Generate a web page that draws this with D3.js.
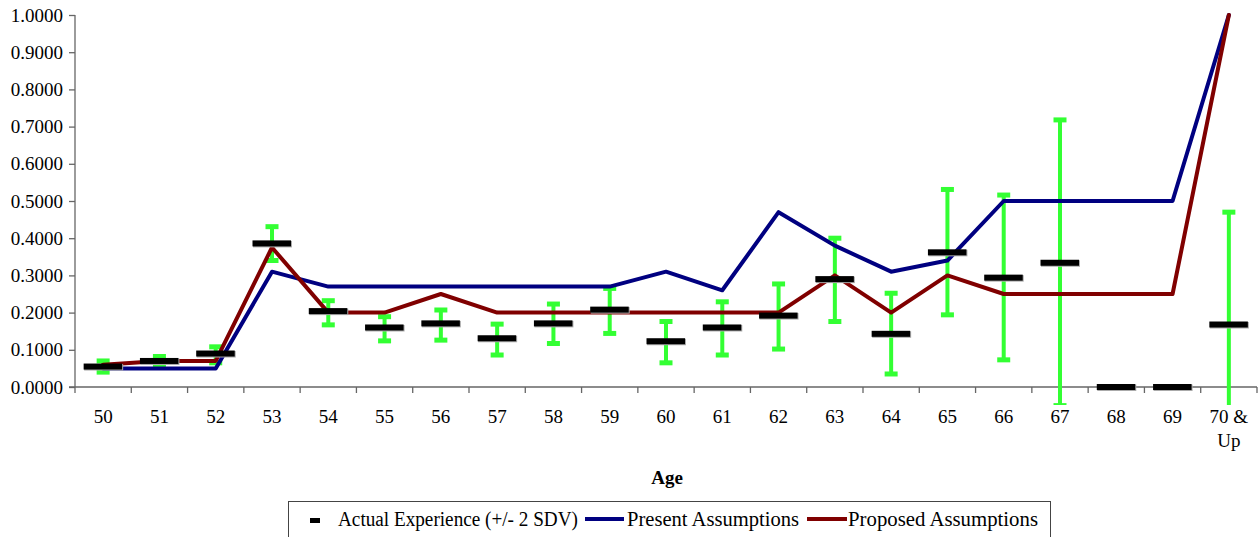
<!DOCTYPE html>
<html><head><meta charset="utf-8">
<script src="https://cdn.jsdelivr.net/npm/d3@7"></script>
<style>body{margin:0;background:#fff}svg{display:block}text{font-family:"Liberation Serif","Times New Roman",serif;fill:#000}</style>
</head><body><svg id="c" width="1259" height="537"></svg>
<script>
const categories = ["50","51","52","53","54","55","56","57","58","59","60","61","62","63","64","65","66","67","68","69","70 & Up"];
const actual   = [0.055,0.070,0.090,0.386,0.204,0.160,0.171,0.131,0.171,0.208,0.123,0.160,0.192,0.290,0.143,0.362,0.294,0.334,0.000,0.000,0.168];
const errHigh  = [0.070,0.082,0.108,0.431,0.232,0.189,0.207,0.169,0.223,0.265,0.176,0.229,0.277,0.400,0.252,0.531,0.516,0.718,0.000,0.000,0.470];
const errLow   = [0.040,0.058,0.065,0.340,0.167,0.124,0.126,0.086,0.117,0.144,0.065,0.086,0.102,0.176,0.035,0.194,0.073,-0.050,0.000,0.000,-0.134];
const present  = [0.05,0.05,0.05,0.31,0.27,0.27,0.27,0.27,0.27,0.27,0.31,0.26,0.47,0.38,0.31,0.34,0.50,0.50,0.50,0.50,1.00];
const proposed = [0.06,0.07,0.07,0.375,0.20,0.20,0.25,0.20,0.20,0.20,0.20,0.20,0.20,0.30,0.20,0.30,0.25,0.25,0.25,0.25,1.00];
const yTicks = [0,0.1,0.2,0.3,0.4,0.5,0.6,0.7,0.8,0.9,1.0];
const legendLabels = ["Actual Experience (+/- 2 SDV)","Present Assumptions","Proposed Assumptions"];

const svg = d3.select("#c");
const x = d3.scaleBand().domain(categories).range([75,1257]);
const y = d3.scaleLinear().domain([0,1]).range([387,15]);
const cx = c => x(c) + x.bandwidth()/2;
const GREEN = "#33ff33", NAVY = "#000080", MAROON = "#800000", AX = "#666";

svg.append("defs").append("clipPath").attr("id","pc").append("rect")
  .attr("x",70).attr("y",0).attr("width",1189).attr("height",405);

// Y axis
const yAxis = svg.append("g").attr("transform","translate(75,0)")
  .call(d3.axisLeft(y).tickValues(yTicks).tickFormat(d3.format(".4f")).tickSize(6).tickPadding(6));
yAxis.attr("font-family",null);
yAxis.select(".domain").attr("stroke",AX).attr("stroke-width",1.3).attr("d","M0,15V387");
yAxis.selectAll(".tick line").attr("stroke",AX).attr("stroke-width",1.3);
yAxis.selectAll(".tick text").attr("font-size",19).attr("fill","#000");

// X axis
const xAxis = svg.append("g").attr("transform","translate(0,387)")
  .call(d3.axisBottom(x).tickSize(0).tickFormat(""));
xAxis.select(".domain").attr("stroke",AX).attr("stroke-width",1.3).attr("d","M69,0H1257");
const bounds = categories.map(c => x(c)).concat([x.range()[1]]);
xAxis.selectAll(".btick").data(bounds).enter().append("line")
  .attr("x1",d=>d).attr("x2",d=>d).attr("y1",0).attr("y2",6).attr("stroke",AX).attr("stroke-width",1.3);
const xl = svg.append("g");
categories.forEach(c => {
  const parts = c === "70 & Up" ? ["70 &","Up"] : [c];
  const t = xl.append("text").attr("text-anchor","middle").attr("font-size",19);
  parts.forEach((p,i) => t.append("tspan").attr("x",cx(c)).attr("y",423 + i*24).text(p));
});
svg.append("text").attr("x",667).attr("y",484).attr("text-anchor","middle")
  .attr("font-size",19).attr("font-weight","bold").text("Age");

const plot = svg.append("g").attr("clip-path","url(#pc)");
// error bars
const eb = plot.append("g");
categories.forEach((c,i) => {
  const X = cx(c);
  eb.append("line").attr("x1",X).attr("x2",X).attr("y1",y(errLow[i])).attr("y2",y(errHigh[i]))
    .attr("stroke",GREEN).attr("stroke-width",4);
  [errLow[i],errHigh[i]].forEach(v => eb.append("line").attr("x1",X-6.5).attr("x2",X+6.5)
    .attr("y1",y(v)).attr("y2",y(v)).attr("stroke",GREEN).attr("stroke-width",5));
});
// lines
const line = d3.line().x((d,i)=>cx(categories[i])).y(d=>y(d));
plot.append("path").datum(present).attr("d",line).attr("fill","none").attr("stroke",NAVY)
  .attr("stroke-width",4).attr("stroke-linejoin","round").attr("stroke-linecap","round");
plot.append("path").datum(proposed).attr("d",line).attr("fill","none").attr("stroke",MAROON)
  .attr("stroke-width",4).attr("stroke-linejoin","round").attr("stroke-linecap","round");
// dash markers
const dm = plot.append("g");
categories.forEach((c,i) => {
  const X = cx(c), Y = y(actual[i]);
  dm.append("rect").attr("x",X-19).attr("y",Y-2.5).attr("width",39).attr("height",6.5).attr("fill","#aaa");
  dm.append("rect").attr("x",X-19.5).attr("y",Y-3).attr("width",38.5).attr("height",6).attr("fill","#000");
});

// legend
const lg = svg.append("g");
lg.append("rect").attr("x",288.5).attr("y",501.5).attr("width",762).attr("height",40)
  .attr("fill","#fff").attr("stroke","#444").attr("stroke-width",1);
lg.append("rect").attr("x",310).attr("y",518).attr("width",10).attr("height",5).attr("fill","#000");
lg.append("text").attr("x",338).attr("y",526).attr("font-size",20.5)
  .attr("textLength",240).attr("lengthAdjust","spacingAndGlyphs").text(legendLabels[0]);
lg.append("line").attr("x1",585).attr("x2",624).attr("y1",519).attr("y2",519).attr("stroke",NAVY).attr("stroke-width",4);
lg.append("text").attr("x",627).attr("y",526).attr("font-size",20.5)
  .attr("textLength",172).attr("lengthAdjust","spacingAndGlyphs").text(legendLabels[1]);
lg.append("line").attr("x1",807).attr("x2",847).attr("y1",519).attr("y2",519).attr("stroke",MAROON).attr("stroke-width",4);
lg.append("text").attr("x",848).attr("y",526).attr("font-size",20.5)
  .attr("textLength",190).attr("lengthAdjust","spacingAndGlyphs").text(legendLabels[2]);
</script></body></html>
